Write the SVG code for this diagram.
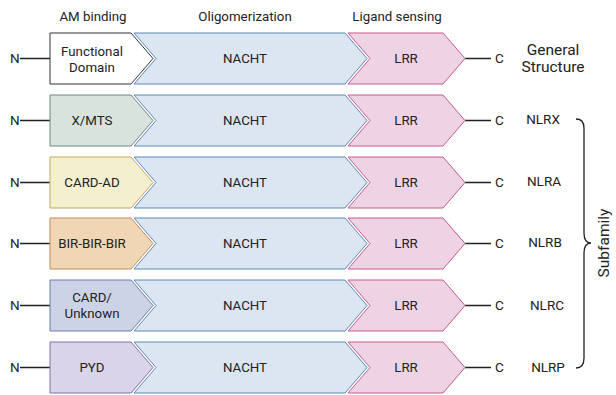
<svg xmlns="http://www.w3.org/2000/svg" width="616" height="395" viewBox="0 0 616 395">
<style>
text{font-family:Roboto,"Liberation Sans",Arial,sans-serif;fill:#222;}
.hd{font-size:13.3px;text-anchor:middle;}
.lb{font-size:13.3px;text-anchor:middle;}
.nc{font-size:13.5px;}
.fam{font-size:13.5px;text-anchor:middle;}
.big{font-size:15.5px;text-anchor:middle;}
.nacht{fill:#dbe6f2;stroke:#5c87b9;stroke-width:1;}
.lrr{fill:#edd3e4;stroke:#c9598c;stroke-width:1;}
.ln{stroke:#222;stroke-width:1.3;fill:none;}
</style>
<defs>
<path id="dom" d="M50,0 H131 L153,25.5 L131,51 H50 Z"/>
<path id="nac" d="M134,0 H345 L367,25.5 L345,51 H134 L156,25.5 Z"/>
<path id="lrrp" d="M348,0 H443 L465,25.5 L443,51 H348 L370,25.5 Z"/>
</defs>
<g id="headers">
<text class="hd" x="93" y="21">AM binding</text>
<text class="hd" x="245" y="21">Oligomerization</text>
<text class="hd" x="397" y="21">Ligand sensing</text>
</g>
<g id="connectors">
<path class="ln" d="M20,58.5 H50 M465,58.5 H491"/>
<path class="ln" d="M20,120.5 H50 M465,120.5 H491"/>
<path class="ln" d="M20,182.5 H50 M465,182.5 H491"/>
<path class="ln" d="M20,243.5 H50 M465,243.5 H491"/>
<path class="ln" d="M20,305.5 H50 M465,305.5 H491"/>
<path class="ln" d="M20,367.5 H50 M465,367.5 H491"/>
</g>
<g id="row-general" transform="translate(0,33)">
<use href="#dom" fill="#ffffff" stroke="#333" stroke-width="1"/>
<use href="#nac" class="nacht"/>
<use href="#lrrp" class="lrr"/>
<text class="nc" x="10" y="30">N</text>
<text class="nc" x="495" y="30">C</text>
<text class="lb" x="92" y="22.5">Functional</text>
<text class="lb" x="92" y="38.5">Domain</text>
<text class="lb" x="245" y="30">NACHT</text>
<text class="lb" x="406" y="30">LRR</text>
<text class="big" x="553" y="22">General</text>
<text class="big" x="553" y="39">Structure</text>
</g>
<g id="row-nlrx" transform="translate(0,95)">
<use href="#dom" fill="#d9e3de" stroke="#6f847c" stroke-width="1"/>
<use href="#nac" class="nacht"/>
<use href="#lrrp" class="lrr"/>
<text class="nc" x="10" y="30">N</text>
<text class="nc" x="495" y="30">C</text>
<text class="lb" x="92" y="30">X/MTS</text>
<text class="lb" x="245" y="30">NACHT</text>
<text class="lb" x="406" y="30">LRR</text>
<text class="fam" x="543" y="29">NLRX</text>
</g>
<g id="row-nlra" transform="translate(0,157)">
<use href="#dom" fill="#f3efcf" stroke="#c6a75c" stroke-width="1"/>
<use href="#nac" class="nacht"/>
<use href="#lrrp" class="lrr"/>
<text class="nc" x="10" y="30">N</text>
<text class="nc" x="495" y="30">C</text>
<text class="lb" x="92" y="30">CARD-AD</text>
<text class="lb" x="245" y="30">NACHT</text>
<text class="lb" x="406" y="30">LRR</text>
<text class="fam" x="544" y="29">NLRA</text>
</g>
<g id="row-nlrb" transform="translate(0,218)">
<use href="#dom" fill="#f1d6b5" stroke="#c28b55" stroke-width="1"/>
<use href="#nac" class="nacht"/>
<use href="#lrrp" class="lrr"/>
<text class="nc" x="10" y="30">N</text>
<text class="nc" x="495" y="30">C</text>
<text class="lb" x="92" y="30">BIR-BIR-BIR</text>
<text class="lb" x="245" y="30">NACHT</text>
<text class="lb" x="406" y="30">LRR</text>
<text class="fam" x="545" y="29">NLRB</text>
</g>
<g id="row-nlrc" transform="translate(0,280)">
<use href="#dom" fill="#cdd3e6" stroke="#6f7ba6" stroke-width="1"/>
<use href="#nac" class="nacht"/>
<use href="#lrrp" class="lrr"/>
<text class="nc" x="10" y="30">N</text>
<text class="nc" x="495" y="30">C</text>
<text class="lb" x="92" y="22">CARD/</text>
<text class="lb" x="92" y="38">Unknown</text>
<text class="lb" x="245" y="30">NACHT</text>
<text class="lb" x="406" y="30">LRR</text>
<text class="fam" x="547" y="30">NLRC</text>
</g>
<g id="row-nlrp" transform="translate(0,342)">
<use href="#dom" fill="#d9d4ea" stroke="#7b70a8" stroke-width="1"/>
<use href="#nac" class="nacht"/>
<use href="#lrrp" class="lrr"/>
<text class="nc" x="10" y="30">N</text>
<text class="nc" x="495" y="30">C</text>
<text class="lb" x="92" y="30">PYD</text>
<text class="lb" x="245" y="30">NACHT</text>
<text class="lb" x="406" y="30">LRR</text>
<text class="fam" x="548" y="30">NLRP</text>
</g>
<g id="subfamily">
<path class="ln" d="M576,119 Q584,119 584,128 V233 Q584,243 591,243 Q584,243 584,253 V358 Q584,368 576,368"/>
<text class="big" transform="translate(609,243) rotate(-90)">Subfamily</text>
</g>
</svg>
